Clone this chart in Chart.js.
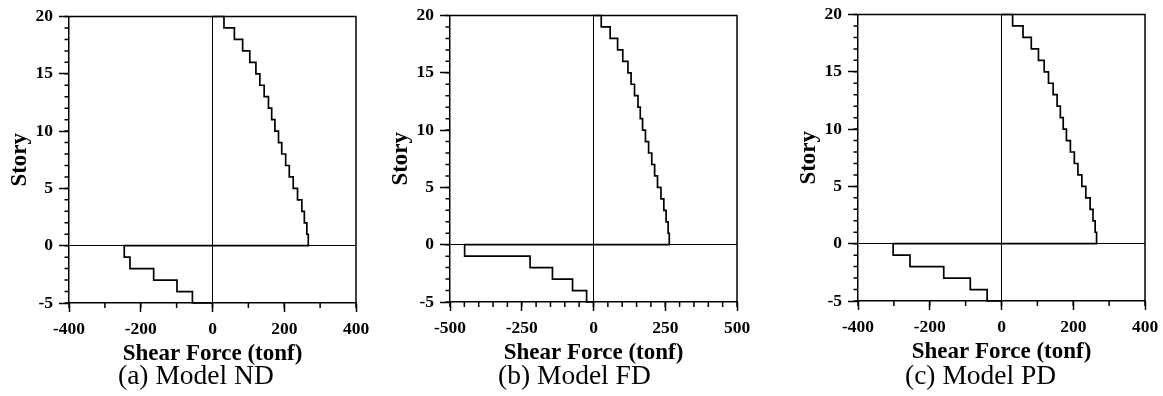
<!DOCTYPE html>
<html lang="en">
<head>
<meta charset="UTF-8">
<title>Story Shear Force</title>
<script src="https://cdn.jsdelivr.net/npm/chart.js"></script>
<style>
    body { margin: 0; background: #fff; }
    #wrap { position: relative; width: 1163px; height: 396px; overflow: hidden; background: #fff; }
    .panel { position: absolute; width: 390px; height: 396px; }
    .caption {
        position: absolute;
        top: 362px;
        font-family: "Liberation Serif", "Times New Roman", serif;
        font-size: 27.5px;
        line-height: 26px;
        white-space: nowrap;
        color: #000;
    }
</style>
</head>
<body>
<div id="wrap">
    <div class="panel" style="left:0px;top:0px"><canvas id="chartND" width="390" height="396"></canvas></div>
    <div class="panel" style="left:381px;top:-1.5px"><canvas id="chartFD" width="390" height="396"></canvas></div>
    <div class="panel" style="left:789px;top:-2px"><canvas id="chartPD" width="390" height="396"></canvas></div>
    <div class="caption" style="left:118px">(a) Model ND</div>
    <div class="caption" style="left:498px">(b) Model FD</div>
    <div class="caption" style="left:905px">(c) Model PD</div>
</div>

<script>
    // story level at the top of each interval (above ground, then basement)
    const upperLevels = [20, 19, 18, 17, 16, 15, 14, 13, 12, 11, 10, 9, 8, 7, 6, 5, 4, 3, 2, 1];
    const basementLevels = [0, -1, -2, -3, -4];
    const bottomLevel = -5;

    // story shear (tonf)
    const shearND = [32, 61, 84, 104, 121, 132, 144, 156, 165, 174, 184, 193, 204, 214, 225, 237, 249, 256, 263, 267];
    const basementND = [-246, -230, -164, -99, -56];

    const shearFD = [27, 58, 84, 102, 120, 131, 143, 155, 163, 171, 181, 192, 203, 213, 223, 235, 245, 253, 260, 264];
    const basementFD = [-449, -221, -143, -73, -24];

    const shearPD = [31, 60, 83, 103, 119, 131, 144, 155, 164, 172, 181, 192, 203, 213, 224, 235, 247, 255, 261, 265];
    const basementPD = [-302, -255, -161, -87, -40];

    // axis ticks
    const yTicks = [-5, 0, 5, 10, 15, 20];
    const xTicksND = [-400, -200, 0, 200, 400];
    const xTicksFD = [-500, -250, 0, 250, 500];
    const xTicksPD = [-400, -200, 0, 200, 400];

    // builds the stepped profile: top -> ground -> basement bottom
    function profile(shear, basement) {
        const pts = [{ x: 0, y: upperLevels[0] }];
        upperLevels.forEach((lv, i) => pts.push({ x: shear[i], y: lv }));
        pts.push({ x: 0, y: 0 });
        basementLevels.forEach((lv, i) => pts.push({ x: basement[i], y: lv }));
        pts.push({ x: 0, y: bottomLevel });
        return pts;
    }

    // box on top/right + short minor ticks
    const frameTicks = {
        id: 'frameTicks',
        afterDraw(chart, args, opts) {
            const { ctx, chartArea: a, scales: { x, y } } = chart;
            ctx.save();
            ctx.strokeStyle = '#000';
            ctx.lineWidth = 1.5;
            ctx.beginPath();
            ctx.moveTo(a.left, a.top);
            ctx.lineTo(a.right, a.top);
            ctx.lineTo(a.right, a.bottom);
            for (let v = x.min; v <= x.max + 1e-6; v += opts.xMinor) {
                const px = x.getPixelForValue(v);
                ctx.moveTo(px, a.bottom);
                ctx.lineTo(px, a.bottom + 5);
            }
            for (let v = y.min; v <= y.max + 1e-6; v += opts.yMinor) {
                const py = y.getPixelForValue(v);
                ctx.moveTo(a.left, py);
                ctx.lineTo(a.left - 4.5, py);
            }
            ctx.stroke();
            ctx.restore();
        }
    };

    const tickFont = { family: 'Liberation Serif', size: 17.5, weight: 'bold', lineHeight: 1.2 };
    const titleFont = { family: 'Liberation Serif', size: 23, weight: 'bold', lineHeight: 1.2 };
    const zeroLine = c => (c.tick && c.tick.value === 0) ? '#000' : 'rgba(0,0,0,0)';

    function makeChart(id, shear, basement, xTicks, xMinor) {
        new Chart(document.getElementById(id), {
            type: 'scatter',
            data: {
                datasets: [{
                    data: profile(shear, basement),
                    showLine: true,
                    stepped: 'after',
                    borderColor: '#000',
                    borderWidth: 1.7,
                    pointRadius: 0,
                    fill: false,
                    clip: 3
                }]
            },
            options: {
                responsive: false,
                animation: false,
                events: [],
                layout: { padding: { top: 15.5, right: 34, bottom: 0, left: 0 } },
                plugins: {
                    legend: { display: false },
                    tooltip: { enabled: false },
                    frameTicks: { xMinor: xMinor, yMinor: 1 }
                },
                scales: {
                    x: {
                        type: 'linear',
                        min: xTicks[0],
                        max: xTicks[xTicks.length - 1],
                        afterFit: s => { s.height = 93; },
                        ticks: {
                            stepSize: xTicks[1] - xTicks[0],
                            color: '#000',
                            font: tickFont,
                            padding: 7,
                            maxRotation: 0,
                            autoSkip: false
                        },
                        grid: {
                            drawOnChartArea: true,
                            color: zeroLine,
                            lineWidth: 1,
                            drawTicks: true,
                            tickLength: 9,
                            tickColor: '#000',
                            tickWidth: 1.5
                        },
                        border: { display: true, color: '#000', width: 1.5 },
                        title: {
                            display: true,
                            text: 'Shear Force (tonf)',
                            color: '#000',
                            font: titleFont,
                            padding: { top: 0, bottom: 28 }
                        }
                    },
                    y: {
                        type: 'linear',
                        min: yTicks[0],
                        max: yTicks[yTicks.length - 1],
                        afterFit: s => { s.width = 69; },
                        ticks: {
                            stepSize: yTicks[1] - yTicks[0],
                            color: '#000',
                            font: tickFont,
                            padding: 6
                        },
                        grid: {
                            drawOnChartArea: true,
                            color: zeroLine,
                            lineWidth: 1,
                            drawTicks: true,
                            tickLength: 10,
                            tickColor: '#000',
                            tickWidth: 1.5
                        },
                        border: { display: true, color: '#000', width: 1.5 },
                        title: {
                            display: true,
                            text: 'Story',
                            color: '#000',
                            font: titleFont,
                            padding: { top: 6, bottom: 0 }
                        }
                    }
                }
            },
            plugins: [frameTicks]
        });
    }

    makeChart('chartND', shearND, basementND, xTicksND, 100);
    makeChart('chartFD', shearFD, basementFD, xTicksFD, 50);
    makeChart('chartPD', shearPD, basementPD, xTicksPD, 100);
</script>
</body>
</html>
